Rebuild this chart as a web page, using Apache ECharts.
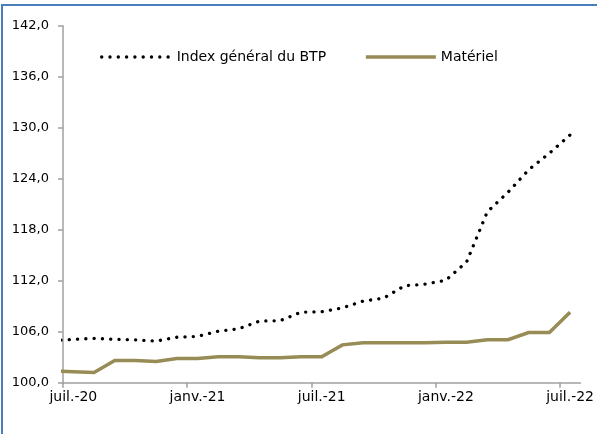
<!DOCTYPE html>
<html><head><meta charset="utf-8">
<script src="https://cdn.jsdelivr.net/npm/echarts@6/dist/echarts.min.js"></script>
<style>html,body{margin:0;padding:0;background:#fff}#c{width:597px;height:434px}</style>
</head><body><div id="c"></div>
<script>
// Monthly periods (first one only feeds the line start at the left edge)
const periods = ['juin-20','juil.-20','août-20','sept.-20','oct.-20','nov.-20','déc.-20',
  'janv.-21','févr.-21','mars-21','avr.-21','mai-21','juin-21','juil.-21','août-21','sept.-21',
  'oct.-21','nov.-21','déc.-21','janv.-22','févr.-22','mars-22','avr.-22','mai-22','juin-22','juil.-22'];
const indexBTP = [104.95, 105.1, 105.22, 105.1, 105.05, 104.9, 105.35, 105.45, 106.05, 106.35,
  107.25, 107.3, 108.3, 108.35, 108.8, 109.6, 109.95, 111.4, 111.6, 112.05,
  114.2, 120.1, 122.4, 125.05, 127.0, 129.15];
const materiel = [101.4, 101.3, 101.2, 102.6, 102.6, 102.5, 102.85, 102.85, 103.05, 103.05,
  102.95, 102.95, 103.05, 103.05, 104.45, 104.7, 104.7, 104.7, 104.7, 104.75,
  104.75, 105.05, 105.05, 105.9, 105.9, 108.3];
const tickLabels = ['juil.-20','janv.-21','juil.-21','janv.-22','juil.-22'];
const seriesNames = ['Index général du BTP', 'Matériel'];
const yMin = 100, yMax = 142, yStep = 6;

const pos = i => i - 0.5;
const labelIdx = tickLabels.map(l => periods.indexOf(l));

const dotted = { color: '#000', width: 3.3, type: [0.1, 8.2], cap: 'round' };
const solid = { color: '#978b56', width: 3.5, type: 'solid', cap: 'butt', join: 'miter' };

const chart = echarts.init(document.getElementById('c'));
chart.setOption({
  animation: false,
  backgroundColor: '#fff',
  textStyle: { fontFamily: 'DejaVu Sans' },
  graphic: [{
    type: 'rect', silent: true, z: 100,
    shape: { x: 2, y: 5, width: 640, height: 480 },
    style: { fill: 'none', stroke: '#4a7ebb', lineWidth: 2 }
  }],
  legend: {
    left: 100, top: 50, padding: 0, itemWidth: 70, itemHeight: 14, itemGap: 38,
    textStyle: { fontSize: 14, color: '#000', fontFamily: 'DejaVu Sans' },
    itemStyle: { opacity: 0 },
    data: [
      { name: seriesNames[0], lineStyle: { color: '#000', width: 3.3, type: [0.1, 8.2], cap: 'round' }, itemStyle: { opacity: 0 } },
      { name: seriesNames[1], lineStyle: { color: '#978b56', width: 3.5, type: 'solid' }, itemStyle: { opacity: 0 } }
    ]
  },
  grid: { left: 63, right: 15, top: 25.7, bottom: 51.3, containLabel: false },
  xAxis: {
    type: 'value', min: 0, max: periods.length - 1,
    splitLine: { show: false },
    axisLine: { show: true, lineStyle: { color: '#a0a0a0', width: 1.5 } },
    axisTick: { show: true, length: 5, lineStyle: { color: '#a0a0a0', width: 1.5 },
      customValues: labelIdx.map(i => i - 1) },
    axisLabel: { customValues: labelIdx.map(pos), color: '#000', fontSize: 14, margin: 8,
      fontFamily: 'DejaVu Sans',
      formatter: v => periods[Math.round(v + 0.5)] }
  },
  yAxis: {
    type: 'value', min: yMin, max: yMax, interval: yStep,
    splitLine: { show: false },
    axisLine: { show: true, lineStyle: { color: '#a0a0a0', width: 1.5 } },
    axisTick: { show: true, length: 5, lineStyle: { color: '#a0a0a0', width: 1.5 } },
    axisLabel: { color: '#000', fontSize: 13, margin: 14, fontFamily: 'DejaVu Sans',
      formatter: v => v.toFixed(1).replace('.', ',') }
  },
  series: [
    { name: seriesNames[0], type: 'line', symbol: 'none', clip: true,
      data: indexBTP.map((v, i) => [pos(i), v]),
      lineStyle: dotted, itemStyle: { color: '#000' } },
    { name: seriesNames[1], type: 'line', symbol: 'none', clip: true,
      data: materiel.map((v, i) => [pos(i), v]),
      lineStyle: solid, itemStyle: { color: '#978b56' } }
  ]
});
</script></body></html>
